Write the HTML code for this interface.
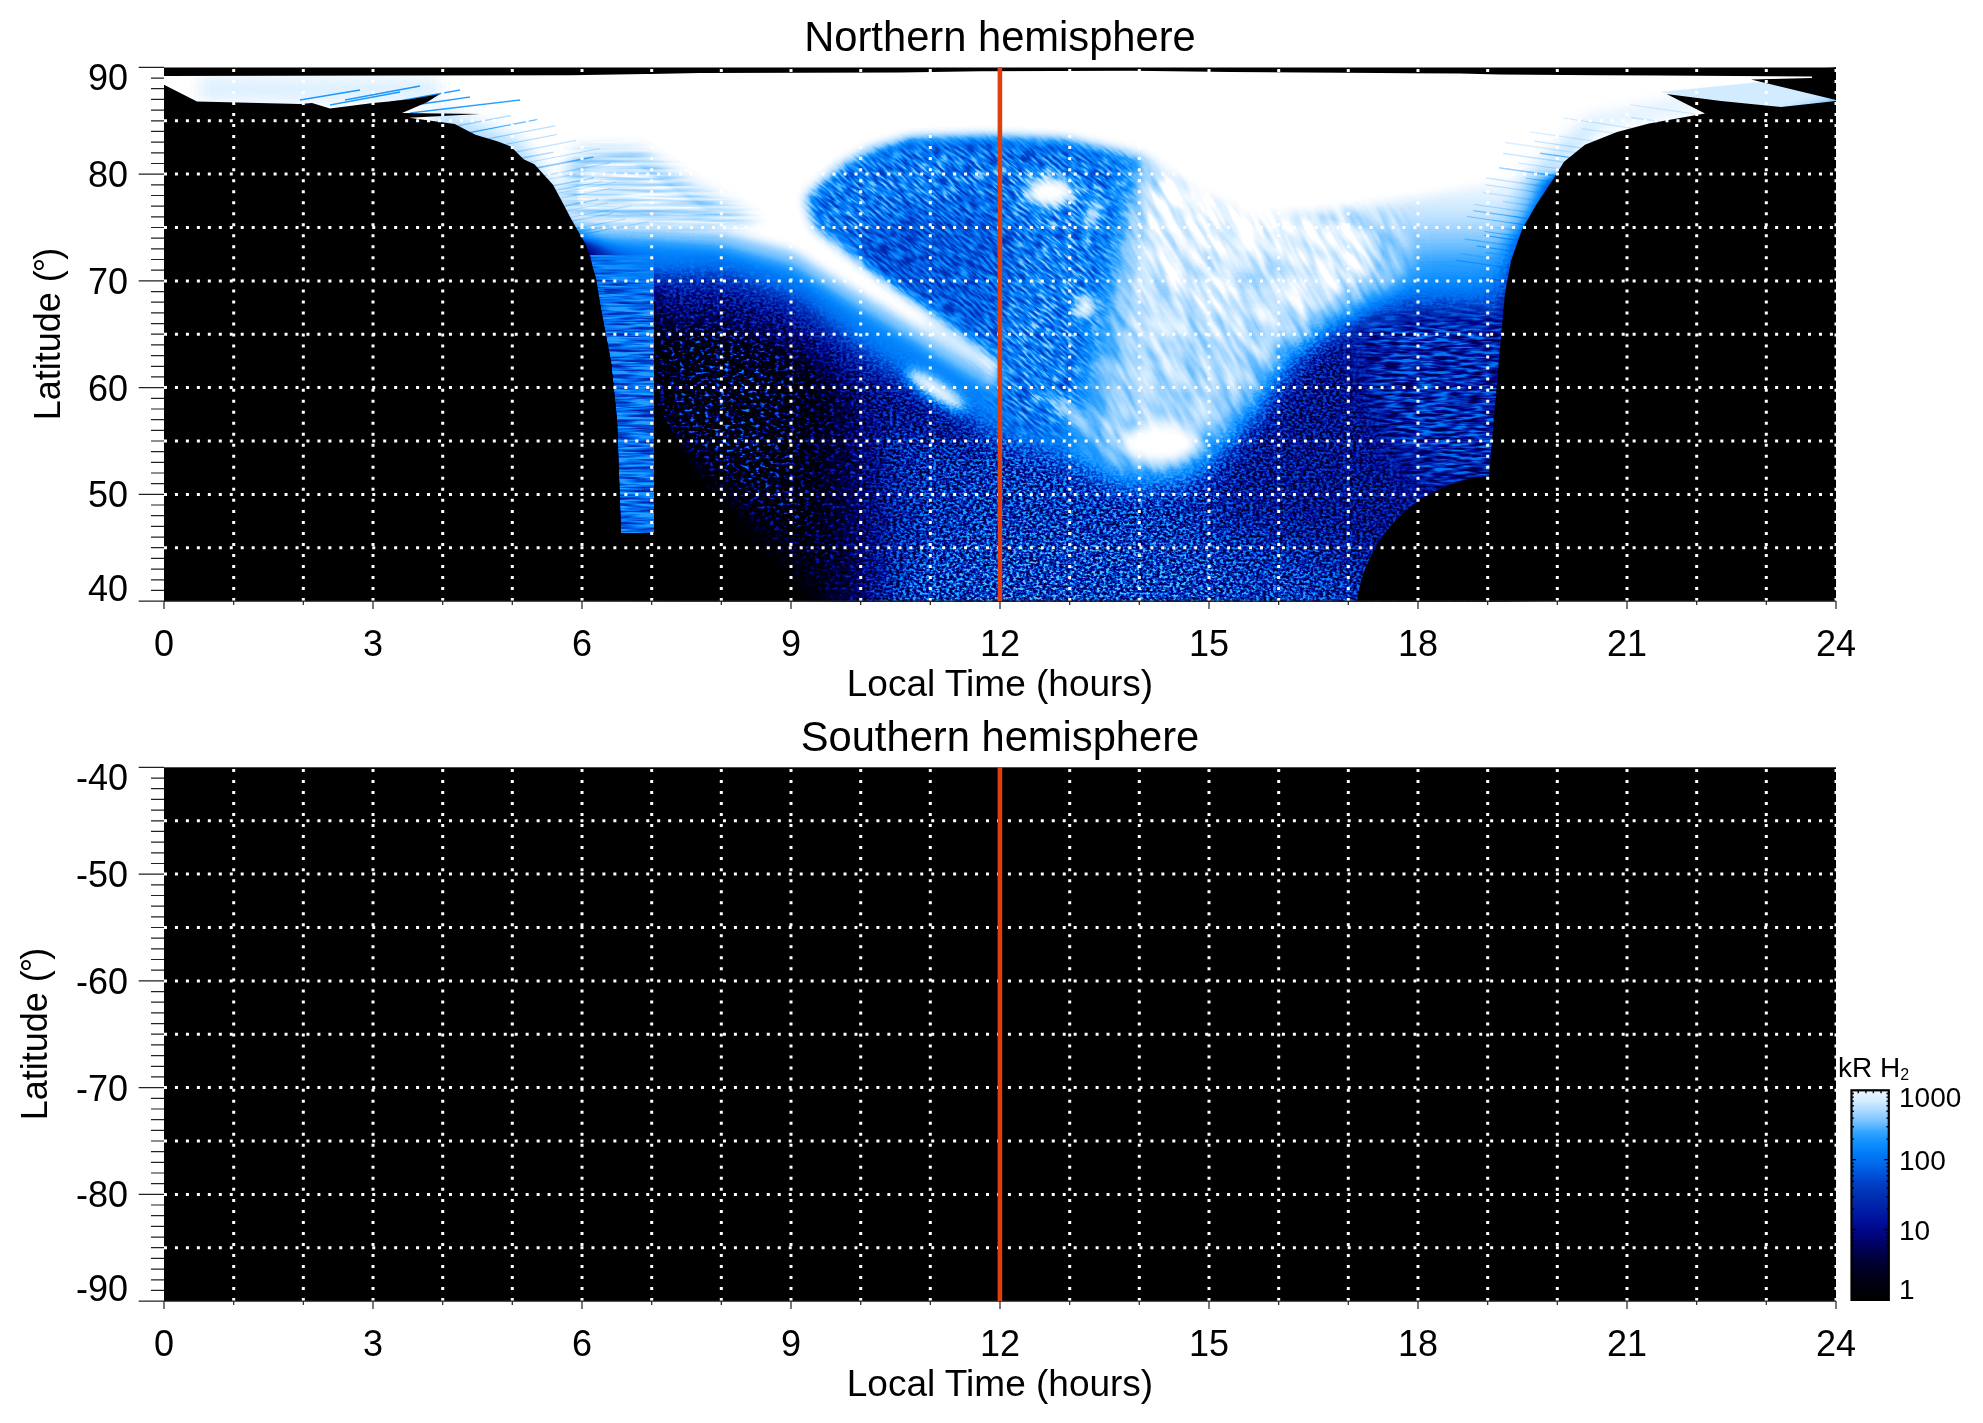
<!DOCTYPE html>
<html><head><meta charset="utf-8"><style>
html,body{margin:0;padding:0;background:#fff;width:1983px;height:1423px;overflow:hidden}
svg{display:block}
text{font-family:"Liberation Sans",sans-serif;fill:#000;will-change:transform}
.t36{font-size:36px} .t37{font-size:37px} .t41{font-size:41.7px} .t28{font-size:28px}
</style></head><body>
<svg width="1983" height="1423" viewBox="0 0 1983 1423">
<rect x="164.0" y="67.4" width="1672.0" height="533.7" fill="#000"/>
<defs>
<clipPath id="plotclip"><rect x="164" y="67.4" width="1672" height="533.7"/></clipPath>
<filter id="cmap" x="0" y="0" width="1" height="1" filterUnits="objectBoundingBox" color-interpolation-filters="sRGB">
 <feComponentTransfer><feFuncR type="table" tableValues="0.000 0.000 0.000 0.000 0.000 0.000 0.000 0.000 0.000 0.000 0.000 0.000 0.000 0.000 0.000 0.063 0.196 0.455 0.659 0.831 1.000"/><feFuncG type="table" tableValues="0.000 0.000 0.000 0.000 0.000 0.000 0.016 0.039 0.086 0.141 0.188 0.243 0.322 0.416 0.486 0.565 0.643 0.761 0.847 0.925 1.000"/><feFuncB type="table" tableValues="0.000 0.039 0.086 0.157 0.243 0.353 0.471 0.573 0.627 0.675 0.706 0.769 0.855 0.925 0.973 1.000 1.000 1.000 1.000 1.000 1.000"/></feComponentTransfer>
</filter>
<filter id="noisy" x="164" y="67" width="1672" height="535" filterUnits="userSpaceOnUse" color-interpolation-filters="sRGB">
 <feTurbulence type="fractalNoise" baseFrequency="0.3 0.42" numOctaves="2" seed="3" result="n"/>
 <feColorMatrix in="n" type="matrix" values="1 0 0 0 0  1 0 0 0 0  1 0 0 0 0  0 0 0 0 1" result="ng"/>
 <feComponentTransfer in="ng" result="nc"><feFuncR type="linear" slope="3.0" intercept="-1.0"/><feFuncG type="linear" slope="3.0" intercept="-1.0"/><feFuncB type="linear" slope="3.0" intercept="-1.0"/></feComponentTransfer>
 <feComposite in="SourceGraphic" in2="nc" operator="arithmetic" k1="0.85" k2="0.3" k3="0" k4="0"/>
</filter>
<filter id="sparse" x="600" y="240" width="500" height="370" filterUnits="userSpaceOnUse" color-interpolation-filters="sRGB">
 <feTurbulence type="fractalNoise" baseFrequency="0.2 0.32" numOctaves="2" seed="17" result="n"/>
 <feColorMatrix in="n" type="matrix" values="1 0 0 0 0  1 0 0 0 0  1 0 0 0 0  0 0 0 0 1" result="ng"/>
 <feComponentTransfer in="ng" result="nc"><feFuncR type="linear" slope="4.0" intercept="-2.0"/><feFuncG type="linear" slope="4.0" intercept="-2.0"/><feFuncB type="linear" slope="4.0" intercept="-2.0"/></feComponentTransfer>
 <feComposite in="SourceGraphic" in2="nc" operator="arithmetic" k1="1.5" k2="0.08" k3="0" k4="0"/>
</filter>
<filter id="noisyh2" x="500" y="100" width="400" height="250" filterUnits="userSpaceOnUse" color-interpolation-filters="sRGB">
 <feTurbulence type="fractalNoise" baseFrequency="0.015 0.3" numOctaves="2" seed="21" result="n"/>
 <feColorMatrix in="n" type="matrix" values="1 0 0 0 0  1 0 0 0 0  1 0 0 0 0  0 0 0 0 1" result="ng"/>
 <feComponentTransfer in="ng" result="nc"><feFuncR type="linear" slope="2.0" intercept="-0.5"/><feFuncG type="linear" slope="2.0" intercept="-0.5"/><feFuncB type="linear" slope="2.0" intercept="-0.5"/></feComponentTransfer>
 <feComposite in="SourceGraphic" in2="nc" operator="arithmetic" k1="0.12" k2="0.93" k3="0" k4="0"/>
</filter>
<filter id="noisyh" x="580" y="240" width="90" height="310" filterUnits="userSpaceOnUse" color-interpolation-filters="sRGB">
 <feTurbulence type="fractalNoise" baseFrequency="0.03 0.4" numOctaves="2" seed="7" result="n"/>
 <feColorMatrix in="n" type="matrix" values="1 0 0 0 0  1 0 0 0 0  1 0 0 0 0  0 0 0 0 1" result="ng"/>
 <feComponentTransfer in="ng" result="nc"><feFuncR type="linear" slope="2.5" intercept="-0.6"/><feFuncG type="linear" slope="2.5" intercept="-0.6"/><feFuncB type="linear" slope="2.5" intercept="-0.6"/></feComponentTransfer>
 <feComposite in="SourceGraphic" in2="nc" operator="arithmetic" k1="0.5" k2="0.65" k3="0" k4="0"/>
</filter>
<filter id="noisyr" x="1300" y="250" width="220" height="270" filterUnits="userSpaceOnUse" color-interpolation-filters="sRGB">
 <feTurbulence type="fractalNoise" baseFrequency="0.06 0.35" numOctaves="2" seed="5" result="n"/>
 <feColorMatrix in="n" type="matrix" values="1 0 0 0 0  1 0 0 0 0  1 0 0 0 0  0 0 0 0 1" result="ng"/>
 <feComponentTransfer in="ng" result="nc"><feFuncR type="linear" slope="2.8" intercept="-0.9"/><feFuncG type="linear" slope="2.8" intercept="-0.9"/><feFuncB type="linear" slope="2.8" intercept="-0.9"/></feComponentTransfer>
 <feComposite in="SourceGraphic" in2="nc" operator="arithmetic" k1="0.75" k2="0.4" k3="0" k4="0"/>
</filter>
<filter id="noisyhole" x="500" y="-300" width="1000" height="1200" filterUnits="userSpaceOnUse" color-interpolation-filters="sRGB">
 <feTurbulence type="fractalNoise" baseFrequency="0.08 0.4" numOctaves="2" seed="11" result="n"/>
 <feColorMatrix in="n" type="matrix" values="1 0 0 0 0  1 0 0 0 0  1 0 0 0 0  0 0 0 0 1" result="ng"/>
 <feComponentTransfer in="ng" result="nc"><feFuncR type="linear" slope="2.6" intercept="-0.8"/><feFuncG type="linear" slope="2.6" intercept="-0.8"/><feFuncB type="linear" slope="2.6" intercept="-0.8"/></feComponentTransfer>
 <feComposite in="SourceGraphic" in2="nc" operator="arithmetic" k1="0.4" k2="0.64" k3="0" k4="0"/>
</filter>
<filter id="noisyarm" x="500" y="-300" width="1000" height="1200" filterUnits="userSpaceOnUse" color-interpolation-filters="sRGB">
 <feTurbulence type="fractalNoise" baseFrequency="0.025 0.12" numOctaves="2" seed="13" result="n"/>
 <feColorMatrix in="n" type="matrix" values="1 0 0 0 0  1 0 0 0 0  1 0 0 0 0  0 0 0 0 1" result="ng"/>
 <feComponentTransfer in="ng" result="nc"><feFuncR type="linear" slope="1.8" intercept="-0.4"/><feFuncG type="linear" slope="1.8" intercept="-0.4"/><feFuncB type="linear" slope="1.8" intercept="-0.4"/></feComponentTransfer>
 <feComposite in="SourceGraphic" in2="nc" operator="arithmetic" k1="0.14" k2="0.93" k3="0" k4="0"/>
</filter>
<filter id="bl3" x="-30%" y="-30%" width="160%" height="160%" color-interpolation-filters="sRGB"><feGaussianBlur stdDeviation="3"/></filter>
<filter id="bl4" x="-30%" y="-30%" width="160%" height="160%" color-interpolation-filters="sRGB"><feGaussianBlur stdDeviation="4"/></filter>
<filter id="bl6" x="-30%" y="-30%" width="160%" height="160%" color-interpolation-filters="sRGB"><feGaussianBlur stdDeviation="6"/></filter>
<filter id="bl8" x="-30%" y="-30%" width="160%" height="160%" color-interpolation-filters="sRGB"><feGaussianBlur stdDeviation="8"/></filter>
<filter id="bl14" x="-30%" y="-30%" width="160%" height="160%" color-interpolation-filters="sRGB"><feGaussianBlur stdDeviation="14"/></filter>
<filter id="bl25" x="-30%" y="-30%" width="160%" height="160%" color-interpolation-filters="sRGB"><feGaussianBlur stdDeviation="25"/></filter>
<linearGradient id="nrg" gradientUnits="userSpaceOnUse" x1="654" y1="0" x2="1500" y2="0"><stop offset="0" stop-color="rgb(31,31,31)"/><stop offset="0.12" stop-color="rgb(71,71,71)"/><stop offset="0.25" stop-color="rgb(148,148,148)"/><stop offset="0.4" stop-color="rgb(176,176,176)"/><stop offset="0.62" stop-color="rgb(171,171,171)"/><stop offset="0.7" stop-color="rgb(133,133,133)"/><stop offset="0.85" stop-color="rgb(122,122,122)"/><stop offset="1" stop-color="rgb(128,128,128)"/></linearGradient>
<linearGradient id="spg" gradientUnits="userSpaceOnUse" x1="654" y1="0" x2="900" y2="0"><stop offset="0" stop-color="rgb(110,110,110)" stop-opacity="1"/><stop offset="0.4" stop-color="rgb(120,120,120)" stop-opacity="1"/><stop offset="1" stop-color="rgb(130,130,130)" stop-opacity="0"/></linearGradient>
<linearGradient id="armg" gradientUnits="userSpaceOnUse" x1="0" y1="150" x2="0" y2="480"><stop offset="0" stop-color="rgb(255,255,255)"/><stop offset="0.3" stop-color="rgb(247,247,247)"/><stop offset="0.6" stop-color="rgb(232,232,232)"/><stop offset="1" stop-color="rgb(227,227,227)"/></linearGradient>
<linearGradient id="rzg" gradientUnits="userSpaceOnUse" x1="0" y1="170" x2="0" y2="330"><stop offset="0" stop-color="rgb(255,255,255)"/><stop offset="0.25" stop-color="rgb(242,242,242)"/><stop offset="0.44" stop-color="rgb(219,219,219)"/><stop offset="0.66" stop-color="rgb(194,194,194)"/><stop offset="0.81" stop-color="rgb(173,173,173)"/><stop offset="1" stop-color="rgb(153,153,153)"/></linearGradient>
</defs>
<g clip-path="url(#plotclip)">
<g filter="url(#cmap)">
<rect x="164" y="67.4" width="1672" height="533.7" fill="#000"/>
<g filter="url(#noisy)">
<g filter="url(#bl14)"><polygon points="654,240 1520,240 1520,620 850,620 740,500 654,420" fill="url(#nrg)"/></g>
<g filter="url(#bl25)"><polygon points="640,470 800,540 860,610 640,610" fill="#000" opacity="0.6"/></g>
<g filter="url(#bl25)"><ellipse cx="1120" cy="600" rx="260" ry="70" fill="rgb(189,189,189)" opacity="0.8"/></g>
</g>
<g filter="url(#sparse)">
<g filter="url(#bl14)"><polygon points="654,250 960,250 960,620 850,620 740,500 654,420" fill="url(#spg)"/></g>
</g>
<g filter="url(#noisy)">
<g filter="url(#bl14)"><polygon points="654,265 720,272 792,296 863,345 923,384 983,420 983,455 900,425 800,350 720,320 654,325" fill="rgb(140,140,140)" opacity="0.85"/></g>
</g>
<g filter="url(#noisyr)">
<g filter="url(#bl14)"><polygon points="1350,310 1520,300 1520,490 1430,500 1390,460 1360,390" fill="rgb(153,153,153)"/></g>
</g>
<g filter="url(#noisyh)">
<polygon points="590,255 654,255 654,533 621,533 617,420 611,362 603,320" fill="rgb(173,173,173)"/>
</g>
<g filter="url(#bl14)">
<polygon points="540,170 573,219 586,245 596,262 653,283 720,280 792,304 863,357 923,393 983,429 1000,438 1053,456 1124,486 1194,476 1229,421 1300,332 1400,300 1505,300 1553,178 1500,140 700,140" fill="rgb(184,184,184)"/>
<polygon points="1230,140 1520,130 1553,178 1536,204 1522,229 1511,261 1505,310 1400,310 1300,340 1240,300" fill="url(#rzg)"/>
</g>
<g transform="rotate(40 980 290)"><g filter="url(#noisyhole)"><g transform="rotate(-40 980 290)"><g filter="url(#bl14)">
<polygon points="803,198 839,168 870,152 911,141 983,139 1063,142 1141,158 1123,226 1106,314 1088,385 1070,437 1000,432 995,359 923,306 863,263 815,227" fill="rgb(217,217,217)"/>
<ellipse cx="915" cy="255" rx="60" ry="50" fill="rgb(184,184,184)"/>
<ellipse cx="975" cy="260" rx="40" ry="70" fill="rgb(189,189,189)"/>
</g></g></g></g>
<g transform="rotate(60 1180 320)"><g filter="url(#noisyarm)"><g transform="rotate(-60 1180 320)"><g filter="url(#bl14)">
<polygon points="1141,150 1300,190 1400,215 1405,275 1345,318 1290,365 1250,425 1190,477 1124,482 1075,450 1088,385 1106,314 1123,226" fill="url(#armg)"/>
</g></g></g></g>
<g filter="url(#bl6)">
<polygon points="560,215 575,228 651,230 720,235 792,254 851,292 911,328 959,359 995,378 1000,380 1000,395 959,372 911,342 851,306 792,268 720,248 651,243 575,240 560,230" fill="rgb(219,219,219)"/>
</g>
<g filter="url(#bl6)">
<polygon points="100,40 1836,40 1836,100 1553,178 1500,180 1420,196 1318,214 1254,218 1200,195 1141,158 1063,142 983,139 911,141 870,152 839,168 806,198 815,227 863,263 923,306 995,359 1000,362 1000,380 995,378 959,359 911,328 851,292 792,254 720,235 651,230 575,228 560,226 530,190 470,150 100,140" fill="#fff"/>
<ellipse cx="1050" cy="192" rx="25" ry="16" fill="#fff"/>
<ellipse cx="1085" cy="307" rx="10" ry="14" fill="#fff"/>
<ellipse cx="1160" cy="443" rx="38" ry="20" fill="#fff"/>
<ellipse cx="936" cy="390" rx="36" ry="9" transform="rotate(33 936 390)" fill="#fff"/>
<ellipse cx="1068" cy="412" rx="30" ry="7" transform="rotate(40 1068 412)" fill="rgb(237,237,237)"/>
<ellipse cx="955" cy="345" rx="40" ry="6" transform="rotate(37 955 345)" fill="rgb(230,230,230)" opacity="0.6"/>
<ellipse cx="1093" cy="214" rx="7" ry="18" transform="rotate(20 1093 214)" fill="rgb(242,242,242)"/>
</g>
<g filter="url(#noisyh2)"><g filter="url(#bl8)">
<polygon points="575,150 640,150 700,190 760,222 700,226 651,224 575,222 560,200" fill="rgb(245,245,245)"/>
</g></g>
<g filter="url(#bl8)"><polygon points="440,110 520,140 575,215 560,240 500,170 430,125" fill="rgb(224,224,224)" opacity="0.7"/><polygon points="1700,105 1600,125 1553,178 1525,230 1500,230 1530,170 1590,120 1690,100" fill="rgb(224,224,224)" opacity="0.6"/><polygon points="200,78 440,80 440,100 200,100" fill="rgb(237,237,237)" opacity="0.6"/></g>
<polygon points="1660,92 1760,82 1836,97 1836,104 1781,108 1721,102" fill="rgb(240,240,240)" opacity="0.85"/>
<g><line x1="456.7" y1="126.0" x2="511.8" y2="115.4" stroke="rgb(162,162,162)" stroke-width="1.4" opacity="0.24"/><line x1="469.6" y1="132.7" x2="538.1" y2="119.4" stroke="rgb(80,80,80)" stroke-width="1.2" opacity="0.24"/><line x1="487.5" y1="138.9" x2="555.0" y2="125.8" stroke="rgb(89,89,89)" stroke-width="1.2" opacity="0.12"/><line x1="504.1" y1="144.7" x2="556.9" y2="134.5" stroke="rgb(78,78,78)" stroke-width="1.0" opacity="0.13"/><line x1="514.6" y1="152.2" x2="576.0" y2="140.4" stroke="rgb(95,95,95)" stroke-width="1.4" opacity="0.10"/><line x1="520.7" y1="158.3" x2="553.4" y2="152.2" stroke="rgb(77,77,77)" stroke-width="1.5" opacity="0.12"/><line x1="528.5" y1="162.4" x2="599.7" y2="148.6" stroke="rgb(177,177,177)" stroke-width="1.0" opacity="0.24"/><line x1="535.9" y1="168.1" x2="593.4" y2="157.0" stroke="rgb(100,100,100)" stroke-width="1.6" opacity="0.20"/><line x1="543.0" y1="175.9" x2="610.2" y2="162.9" stroke="rgb(111,111,111)" stroke-width="1.1" opacity="0.11"/><line x1="546.3" y1="179.7" x2="576.3" y2="174.1" stroke="rgb(111,111,111)" stroke-width="1.3" opacity="0.08"/><line x1="551.7" y1="186.1" x2="593.9" y2="178.0" stroke="rgb(112,112,112)" stroke-width="1.5" opacity="0.16"/><line x1="554.1" y1="190.6" x2="602.8" y2="181.3" stroke="rgb(157,157,157)" stroke-width="0.8" opacity="0.25"/><line x1="555.8" y1="193.7" x2="616.6" y2="182.0" stroke="rgb(173,173,173)" stroke-width="0.8" opacity="0.21"/><line x1="558.4" y1="198.6" x2="611.5" y2="188.4" stroke="rgb(78,78,78)" stroke-width="0.8" opacity="0.11"/><line x1="562.6" y1="206.4" x2="598.4" y2="199.6" stroke="rgb(163,163,163)" stroke-width="1.5" opacity="0.24"/><line x1="565.0" y1="211.1" x2="608.0" y2="202.9" stroke="rgb(137,137,137)" stroke-width="1.4" opacity="0.10"/><line x1="568.6" y1="217.8" x2="631.5" y2="205.6" stroke="rgb(175,175,175)" stroke-width="0.8" opacity="0.24"/><line x1="570.3" y1="221.3" x2="612.7" y2="213.2" stroke="rgb(147,147,147)" stroke-width="1.5" opacity="0.14"/><line x1="574.1" y1="228.9" x2="625.6" y2="219.0" stroke="rgb(112,112,112)" stroke-width="1.1" opacity="0.11"/><line x1="575.4" y1="232.3" x2="609.1" y2="225.9" stroke="rgb(156,156,156)" stroke-width="1.6" opacity="0.11"/><line x1="576.7" y1="235.5" x2="648.1" y2="221.7" stroke="rgb(138,138,138)" stroke-width="1.1" opacity="0.12"/><line x1="330" y1="105" x2="400" y2="92" stroke="rgb(102,102,102)" stroke-width="1.3" opacity="0.35"/><line x1="345" y1="100" x2="420" y2="86" stroke="rgb(102,102,102)" stroke-width="1.3" opacity="0.35"/><line x1="360" y1="108" x2="460" y2="90" stroke="rgb(102,102,102)" stroke-width="1.3" opacity="0.35"/><line x1="380" y1="110" x2="470" y2="97" stroke="rgb(102,102,102)" stroke-width="1.3" opacity="0.35"/><line x1="300" y1="100" x2="360" y2="90" stroke="rgb(102,102,102)" stroke-width="1.3" opacity="0.35"/><line x1="410" y1="113" x2="520" y2="100" stroke="rgb(102,102,102)" stroke-width="1.3" opacity="0.35"/><line x1="1694.8" y1="114.0" x2="1630.6" y2="104.7" stroke="rgb(129,129,129)" stroke-width="1.1" opacity="0.09"/><line x1="1659.8" y1="121.6" x2="1631.4" y2="117.6" stroke="rgb(133,133,133)" stroke-width="1.5" opacity="0.10"/><line x1="1633.2" y1="128.2" x2="1563.4" y2="118.1" stroke="rgb(149,149,149)" stroke-width="1.4" opacity="0.10"/><line x1="1615.4" y1="133.4" x2="1581.7" y2="128.7" stroke="rgb(173,173,173)" stroke-width="1.0" opacity="0.16"/><line x1="1595.3" y1="141.4" x2="1529.9" y2="131.9" stroke="rgb(188,188,188)" stroke-width="1.2" opacity="0.16"/><line x1="1582.9" y1="148.1" x2="1534.3" y2="141.1" stroke="rgb(110,110,110)" stroke-width="1.1" opacity="0.10"/><line x1="1576.8" y1="152.9" x2="1505.3" y2="142.5" stroke="rgb(187,187,187)" stroke-width="1.3" opacity="0.16"/><line x1="1571.0" y1="157.6" x2="1540.0" y2="153.3" stroke="rgb(108,108,108)" stroke-width="1.4" opacity="0.23"/><line x1="1565.5" y1="162.4" x2="1503.2" y2="153.4" stroke="rgb(165,165,165)" stroke-width="1.4" opacity="0.19"/><line x1="1561.4" y1="169.2" x2="1518.1" y2="163.0" stroke="rgb(157,157,157)" stroke-width="1.0" opacity="0.16"/><line x1="1557.2" y1="176.1" x2="1499.1" y2="167.7" stroke="rgb(110,110,110)" stroke-width="1.6" opacity="0.19"/><line x1="1553.4" y1="182.0" x2="1525.9" y2="178.2" stroke="rgb(139,139,139)" stroke-width="1.0" opacity="0.19"/><line x1="1549.9" y1="187.3" x2="1486.1" y2="178.0" stroke="rgb(151,151,151)" stroke-width="1.4" opacity="0.14"/><line x1="1545.7" y1="193.5" x2="1485.5" y2="184.8" stroke="rgb(172,172,172)" stroke-width="1.1" opacity="0.22"/><line x1="1540.8" y1="200.9" x2="1482.8" y2="192.5" stroke="rgb(189,189,189)" stroke-width="1.6" opacity="0.17"/><line x1="1537.2" y1="206.5" x2="1502.8" y2="201.6" stroke="rgb(173,173,173)" stroke-width="1.5" opacity="0.16"/><line x1="1533.5" y1="213.0" x2="1474.1" y2="204.4" stroke="rgb(160,160,160)" stroke-width="0.9" opacity="0.21"/><line x1="1530.1" y1="218.9" x2="1473.2" y2="210.6" stroke="rgb(125,125,125)" stroke-width="1.3" opacity="0.21"/><line x1="1526.6" y1="225.1" x2="1467.1" y2="216.5" stroke="rgb(80,80,80)" stroke-width="0.9" opacity="0.15"/><line x1="1523.4" y1="231.3" x2="1486.5" y2="226.1" stroke="rgb(155,155,155)" stroke-width="1.3" opacity="0.09"/><line x1="1521.5" y1="236.7" x2="1484.3" y2="231.4" stroke="rgb(83,83,83)" stroke-width="0.9" opacity="0.13"/><line x1="1520.1" y1="240.6" x2="1484.4" y2="235.5" stroke="rgb(81,81,81)" stroke-width="1.2" opacity="0.14"/><line x1="1518.0" y1="246.6" x2="1464.5" y2="238.9" stroke="rgb(104,104,104)" stroke-width="1.5" opacity="0.08"/><line x1="1516.3" y1="251.7" x2="1476.7" y2="246.0" stroke="rgb(124,124,124)" stroke-width="0.9" opacity="0.22"/><line x1="1514.6" y1="256.5" x2="1485.9" y2="252.5" stroke="rgb(147,147,147)" stroke-width="0.9" opacity="0.17"/><line x1="1513.0" y1="261.2" x2="1459.8" y2="253.6" stroke="rgb(186,186,186)" stroke-width="1.5" opacity="0.15"/><line x1="1511.6" y1="268.3" x2="1455.7" y2="260.2" stroke="rgb(119,119,119)" stroke-width="0.9" opacity="0.18"/><line x1="1510.5" y1="274.1" x2="1440.5" y2="263.9" stroke="rgb(188,188,188)" stroke-width="1.3" opacity="0.14"/><line x1="1509.1" y1="281.6" x2="1482.1" y2="277.8" stroke="rgb(89,89,89)" stroke-width="1.3" opacity="0.18"/><line x1="1508.4" y1="285.3" x2="1453.1" y2="277.3" stroke="rgb(179,179,179)" stroke-width="1.1" opacity="0.15"/><line x1="1507.7" y1="289.4" x2="1467.6" y2="283.7" stroke="rgb(188,188,188)" stroke-width="1.1" opacity="0.24"/></g>
</g>
<polygon points="164,67 1836,67 1836,100 1751,79.5 1812,78 1812,76.5 1600,75.2 1500,74.6 1460,73.6 1380,72.9 1230,72.1 1130,70.8 980,71.3 900,72.4 700,72.9 650,74 570,75.2 164,76" fill="#000"/>
<polygon points="164,84.7 197,101.4 300,104 312,103 330,108.6 373,103 409,99.5 440,94 427,102.2 402,113 440,113.5 480,114 409,117.7 454.7,123.9 475.4,134.7 498,141.5 510.8,146.5 523.6,159.2 534.4,164.2 543.2,174 553,184.8 562,201.5 570.8,218.2 586,245 596,278 603,320 611,362 617,420 621,533 654,533 654,400 700,480 790,601.5 164,601.5" fill="#000"/>
<path d="M1836 101 L1781 107 L1721 101 L1666.6 94 L1705 113.4 L1649 123.5 L1617 132 L1585 144.7 L1564 161.7 L1553.7 178.6 L1536.7 204 L1522 229.5 L1511 261 L1505 293 L1500.7 340 L1489 476 A144.5 144.5 0 0 0 1357 601.5 L1836 601.5 Z" fill="#000"/>
</g>
<path d="M233.7 601.1V67.4 M303.3 601.1V67.4 M373.0 601.1V67.4 M442.7 601.1V67.4 M512.3 601.1V67.4 M582.0 601.1V67.4 M651.7 601.1V67.4 M721.3 601.1V67.4 M791.0 601.1V67.4 M860.7 601.1V67.4 M930.3 601.1V67.4 M1000.0 601.1V67.4 M1069.7 601.1V67.4 M1139.3 601.1V67.4 M1209.0 601.1V67.4 M1278.7 601.1V67.4 M1348.3 601.1V67.4 M1418.0 601.1V67.4 M1487.7 601.1V67.4 M1557.3 601.1V67.4 M1627.0 601.1V67.4 M1696.7 601.1V67.4 M1766.3 601.1V67.4 M1836.0 601.1V67.4" stroke="#fff" stroke-width="3" stroke-dasharray="3 8.025" fill="none"/>
<path d="M164.0 547.7H1836.0 M164.0 494.4H1836.0 M164.0 441.0H1836.0 M164.0 387.6H1836.0 M164.0 334.2H1836.0 M164.0 280.9H1836.0 M164.0 227.5H1836.0 M164.0 174.1H1836.0 M164.0 120.8H1836.0" stroke="#fff" stroke-width="3" stroke-dasharray="3 7.96" fill="none"/>
<path d="M138.7 601.1H164.0 M151.0 590.4H164.0 M151.0 579.8H164.0 M151.0 569.1H164.0 M151.0 558.4H164.0 M151.0 547.7H164.0 M151.0 537.1H164.0 M151.0 526.4H164.0 M151.0 515.7H164.0 M151.0 505.0H164.0 M138.7 494.4H164.0 M151.0 483.7H164.0 M151.0 473.0H164.0 M151.0 462.3H164.0 M151.0 451.7H164.0 M151.0 441.0H164.0 M151.0 430.3H164.0 M151.0 419.6H164.0 M151.0 409.0H164.0 M151.0 398.3H164.0 M138.7 387.6H164.0 M151.0 376.9H164.0 M151.0 366.3H164.0 M151.0 355.6H164.0 M151.0 344.9H164.0 M151.0 334.2H164.0 M151.0 323.6H164.0 M151.0 312.9H164.0 M151.0 302.2H164.0 M151.0 291.6H164.0 M138.7 280.9H164.0 M151.0 270.2H164.0 M151.0 259.5H164.0 M151.0 248.9H164.0 M151.0 238.2H164.0 M151.0 227.5H164.0 M151.0 216.8H164.0 M151.0 206.2H164.0 M151.0 195.5H164.0 M151.0 184.8H164.0 M138.7 174.1H164.0 M151.0 163.5H164.0 M151.0 152.8H164.0 M151.0 142.1H164.0 M151.0 131.4H164.0 M151.0 120.8H164.0 M151.0 110.1H164.0 M151.0 99.4H164.0 M151.0 88.7H164.0 M151.0 78.1H164.0 M138.7 67.4H164.0 M164.0 601.1V609.1 M233.7 601.1V605.1 M303.3 601.1V605.1 M373.0 601.1V609.1 M442.7 601.1V605.1 M512.3 601.1V605.1 M582.0 601.1V609.1 M651.7 601.1V605.1 M721.3 601.1V605.1 M791.0 601.1V609.1 M860.7 601.1V605.1 M930.3 601.1V605.1 M1000.0 601.1V609.1 M1069.7 601.1V605.1 M1139.3 601.1V605.1 M1209.0 601.1V609.1 M1278.7 601.1V605.1 M1348.3 601.1V605.1 M1418.0 601.1V609.1 M1487.7 601.1V605.1 M1557.3 601.1V605.1 M1627.0 601.1V609.1 M1696.7 601.1V605.1 M1766.3 601.1V605.1 M1836.0 601.1V609.1 M164.0 601.1H1836.0" stroke="#222" stroke-width="1.2" fill="none"/>
<rect x="997.6" y="67.4" width="4.6" height="533.7" fill="#e0400f"/>
<text x="128" y="89.9" text-anchor="end" class="t36">90</text>
<text x="128" y="187.1" text-anchor="end" class="t36">80</text>
<text x="128" y="293.9" text-anchor="end" class="t36">70</text>
<text x="128" y="400.6" text-anchor="end" class="t36">60</text>
<text x="128" y="507.4" text-anchor="end" class="t36">50</text>
<text x="128" y="601.1" text-anchor="end" class="t36">40</text>
<text x="164.0" y="655.6" text-anchor="middle" class="t36">0</text>
<text x="373.0" y="655.6" text-anchor="middle" class="t36">3</text>
<text x="582.0" y="655.6" text-anchor="middle" class="t36">6</text>
<text x="791.0" y="655.6" text-anchor="middle" class="t36">9</text>
<text x="1000.0" y="655.6" text-anchor="middle" class="t36">12</text>
<text x="1209.0" y="655.6" text-anchor="middle" class="t36">15</text>
<text x="1418.0" y="655.6" text-anchor="middle" class="t36">18</text>
<text x="1627.0" y="655.6" text-anchor="middle" class="t36">21</text>
<text x="1836.0" y="655.6" text-anchor="middle" class="t36">24</text>
<text x="1000" y="695.6" text-anchor="middle" class="t37">Local Time (hours)</text>
<text x="1000" y="50.8" text-anchor="middle" class="t41">Northern hemisphere</text>
<rect x="164.0" y="767.3" width="1672.0" height="533.8" fill="#000"/>

<path d="M233.7 1301.1V767.3 M303.3 1301.1V767.3 M373.0 1301.1V767.3 M442.7 1301.1V767.3 M512.3 1301.1V767.3 M582.0 1301.1V767.3 M651.7 1301.1V767.3 M721.3 1301.1V767.3 M791.0 1301.1V767.3 M860.7 1301.1V767.3 M930.3 1301.1V767.3 M1000.0 1301.1V767.3 M1069.7 1301.1V767.3 M1139.3 1301.1V767.3 M1209.0 1301.1V767.3 M1278.7 1301.1V767.3 M1348.3 1301.1V767.3 M1418.0 1301.1V767.3 M1487.7 1301.1V767.3 M1557.3 1301.1V767.3 M1627.0 1301.1V767.3 M1696.7 1301.1V767.3 M1766.3 1301.1V767.3 M1836.0 1301.1V767.3" stroke="#fff" stroke-width="3" stroke-dasharray="3 8.025" fill="none"/>
<path d="M164.0 1247.7H1836.0 M164.0 1194.4H1836.0 M164.0 1141.0H1836.0 M164.0 1087.6H1836.0 M164.0 1034.2H1836.0 M164.0 980.9H1836.0 M164.0 927.5H1836.0 M164.0 874.1H1836.0 M164.0 820.8H1836.0" stroke="#fff" stroke-width="3" stroke-dasharray="3 7.96" fill="none"/>
<path d="M138.7 1301.1H164.0 M151.0 1290.4H164.0 M151.0 1279.8H164.0 M151.0 1269.1H164.0 M151.0 1258.4H164.0 M151.0 1247.7H164.0 M151.0 1237.1H164.0 M151.0 1226.4H164.0 M151.0 1215.7H164.0 M151.0 1205.0H164.0 M138.7 1194.4H164.0 M151.0 1183.7H164.0 M151.0 1173.0H164.0 M151.0 1162.3H164.0 M151.0 1151.7H164.0 M151.0 1141.0H164.0 M151.0 1130.3H164.0 M151.0 1119.6H164.0 M151.0 1109.0H164.0 M151.0 1098.3H164.0 M138.7 1087.6H164.0 M151.0 1076.9H164.0 M151.0 1066.3H164.0 M151.0 1055.6H164.0 M151.0 1044.9H164.0 M151.0 1034.2H164.0 M151.0 1023.6H164.0 M151.0 1012.9H164.0 M151.0 1002.2H164.0 M151.0 991.6H164.0 M138.7 980.9H164.0 M151.0 970.2H164.0 M151.0 959.5H164.0 M151.0 948.9H164.0 M151.0 938.2H164.0 M151.0 927.5H164.0 M151.0 916.8H164.0 M151.0 906.2H164.0 M151.0 895.5H164.0 M151.0 884.8H164.0 M138.7 874.1H164.0 M151.0 863.5H164.0 M151.0 852.8H164.0 M151.0 842.1H164.0 M151.0 831.4H164.0 M151.0 820.8H164.0 M151.0 810.1H164.0 M151.0 799.4H164.0 M151.0 788.7H164.0 M151.0 778.1H164.0 M138.7 767.4H164.0 M164.0 1301.1V1309.1 M233.7 1301.1V1305.1 M303.3 1301.1V1305.1 M373.0 1301.1V1309.1 M442.7 1301.1V1305.1 M512.3 1301.1V1305.1 M582.0 1301.1V1309.1 M651.7 1301.1V1305.1 M721.3 1301.1V1305.1 M791.0 1301.1V1309.1 M860.7 1301.1V1305.1 M930.3 1301.1V1305.1 M1000.0 1301.1V1309.1 M1069.7 1301.1V1305.1 M1139.3 1301.1V1305.1 M1209.0 1301.1V1309.1 M1278.7 1301.1V1305.1 M1348.3 1301.1V1305.1 M1418.0 1301.1V1309.1 M1487.7 1301.1V1305.1 M1557.3 1301.1V1305.1 M1627.0 1301.1V1309.1 M1696.7 1301.1V1305.1 M1766.3 1301.1V1305.1 M1836.0 1301.1V1309.1 M164.0 1301.1H1836.0" stroke="#222" stroke-width="1.2" fill="none"/>
<rect x="997.6" y="767.3" width="4.6" height="533.8" fill="#e0400f"/>
<text x="128" y="789.9" text-anchor="end" class="t36">-40</text>
<text x="128" y="887.1" text-anchor="end" class="t36">-50</text>
<text x="128" y="993.9" text-anchor="end" class="t36">-60</text>
<text x="128" y="1100.6" text-anchor="end" class="t36">-70</text>
<text x="128" y="1207.4" text-anchor="end" class="t36">-80</text>
<text x="128" y="1301.1" text-anchor="end" class="t36">-90</text>
<text x="164.0" y="1355.6" text-anchor="middle" class="t36">0</text>
<text x="373.0" y="1355.6" text-anchor="middle" class="t36">3</text>
<text x="582.0" y="1355.6" text-anchor="middle" class="t36">6</text>
<text x="791.0" y="1355.6" text-anchor="middle" class="t36">9</text>
<text x="1000.0" y="1355.6" text-anchor="middle" class="t36">12</text>
<text x="1209.0" y="1355.6" text-anchor="middle" class="t36">15</text>
<text x="1418.0" y="1355.6" text-anchor="middle" class="t36">18</text>
<text x="1627.0" y="1355.6" text-anchor="middle" class="t36">21</text>
<text x="1836.0" y="1355.6" text-anchor="middle" class="t36">24</text>
<text x="1000" y="1395.6" text-anchor="middle" class="t37">Local Time (hours)</text>
<text x="1000" y="750.7" text-anchor="middle" class="t41">Southern hemisphere</text>
<text transform="translate(60 334) rotate(-90)" text-anchor="middle" class="t36">Latitude (<tspan dx="-2">°</tspan><tspan dx="-2">)</tspan></text>
<text transform="translate(47 1034) rotate(-90)" text-anchor="middle" class="t36">Latitude (<tspan dx="-2">°</tspan><tspan dx="-2">)</tspan></text>
<defs><linearGradient id="cb" x1="0" y1="1" x2="0" y2="0">
<stop offset="0.00" stop-color="#000000"/>
<stop offset="0.05" stop-color="#00000a"/>
<stop offset="0.10" stop-color="#000016"/>
<stop offset="0.15" stop-color="#000028"/>
<stop offset="0.20" stop-color="#00003e"/>
<stop offset="0.25" stop-color="#00005a"/>
<stop offset="0.30" stop-color="#000478"/>
<stop offset="0.35" stop-color="#000a92"/>
<stop offset="0.40" stop-color="#0016a0"/>
<stop offset="0.45" stop-color="#0024ac"/>
<stop offset="0.50" stop-color="#0030b4"/>
<stop offset="0.55" stop-color="#003ec4"/>
<stop offset="0.60" stop-color="#0052da"/>
<stop offset="0.65" stop-color="#006aec"/>
<stop offset="0.70" stop-color="#007cf8"/>
<stop offset="0.75" stop-color="#1090ff"/>
<stop offset="0.80" stop-color="#32a4ff"/>
<stop offset="0.85" stop-color="#74c2ff"/>
<stop offset="0.90" stop-color="#a8d8ff"/>
<stop offset="0.95" stop-color="#d4ecff"/>
<stop offset="1" stop-color="#eef7ff"/>
</linearGradient></defs>
<rect x="1851.5" y="1090.3" width="37.3" height="209.6" fill="url(#cb)" stroke="#000" stroke-width="2.2"/>
<path d="M1851.5 1278.9h2.4M1888.8 1278.9h-2.4M1851.5 1266.6h2.4M1888.8 1266.6h-2.4M1851.5 1257.8h2.4M1888.8 1257.8h-2.4M1851.5 1251.1h2.4M1888.8 1251.1h-2.4M1851.5 1245.5h2.4M1888.8 1245.5h-2.4M1851.5 1240.9h2.4M1888.8 1240.9h-2.4M1851.5 1236.8h2.4M1888.8 1236.8h-2.4M1851.5 1233.2h2.4M1888.8 1233.2h-2.4M1851.5 1209.0h2.4M1888.8 1209.0h-2.4M1851.5 1196.7h2.4M1888.8 1196.7h-2.4M1851.5 1188.0h2.4M1888.8 1188.0h-2.4M1851.5 1181.2h2.4M1888.8 1181.2h-2.4M1851.5 1175.7h2.4M1888.8 1175.7h-2.4M1851.5 1171.0h2.4M1888.8 1171.0h-2.4M1851.5 1166.9h2.4M1888.8 1166.9h-2.4M1851.5 1163.4h2.4M1888.8 1163.4h-2.4M1851.5 1139.1h2.4M1888.8 1139.1h-2.4M1851.5 1126.8h2.4M1888.8 1126.8h-2.4M1851.5 1118.1h2.4M1888.8 1118.1h-2.4M1851.5 1111.3h2.4M1888.8 1111.3h-2.4M1851.5 1105.8h2.4M1888.8 1105.8h-2.4M1851.5 1101.1h2.4M1888.8 1101.1h-2.4M1851.5 1097.1h2.4M1888.8 1097.1h-2.4M1851.5 1093.5h2.4M1888.8 1093.5h-2.4M1851.5 1159.6h4.5M1888.8 1159.6h-4.5M1851.5 1229.5h4.5M1888.8 1229.5h-4.5M1858.3 1090.3v3M1865.9 1090.3v3M1873.4 1090.3v3M1881 1090.3v3" stroke="#000" stroke-width="1.4"/>
<text x="1899" y="1107" class="t28">1000</text>
<text x="1899" y="1170" class="t28">100</text>
<text x="1899" y="1240" class="t28">10</text>
<text x="1899" y="1299" class="t28">1</text>
<text x="1838" y="1077" class="t28">kR H<tspan font-size="16" dy="3">2</tspan></text>
</svg></body></html>
